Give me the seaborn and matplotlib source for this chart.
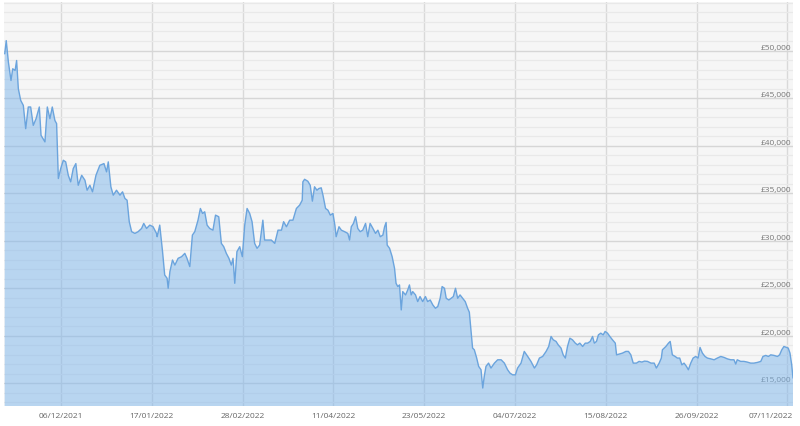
import numpy as np
import pandas as pd
import matplotlib
matplotlib.use("Agg")
import matplotlib.pyplot as plt
import matplotlib.dates as mdates
import matplotlib.ticker as mticker
import matplotlib.transforms as mtrans
import seaborn as sns

# ---------------- data ----------------
start_date = "2021-11-10"

day_offsets = [
    0, 0.7, 1.7, 2.9, 3.7, 4.8, 5.5, 6.3, 7.4, 8.6, 9.7, 10.9, 12.0, 13.2, 14.5, 16.0, 16.8, 18.6, 19.7, 20.9, 22.0, 23.2, 24.0,
    24.8, 25.9, 27.1, 28.2, 29.4, 30.5, 31.7, 32.9, 34.0, 35.6, 37.1, 38.1, 39.4, 40.6, 42.2, 44.0, 45.9, 47.1, 47.9, 49.1, 50.2, 51.7, 53.3, 54.5, 55.6, 56.6,
    57.6, 58.7, 60.2, 61.7, 63.3, 64.3, 65.6, 67.1, 68.6, 70.2, 70.5, 71.7, 73.0, 74.0, 75.1, 75.6, 76.4, 77.6, 78.7, 80.2, 81.8, 83.3, 84.3, 85.6,
    86.8, 87.9, 89.4, 90.5, 91.5, 92.5, 93.6, 94.8, 96.3, 97.5, 99.0, 100.2, 101.3, 102.5, 103.7, 104.8, 105.6, 106.4, 107.4, 108.7, 109.9, 111.0, 112.1, 113.3, 114.4, 115.6, 116.7, 117.9,
    119.4, 120.2, 121.8, 123.3, 124.9, 126.4, 128.0, 129.0, 130.3, 131.8, 133.3, 134.9, 136.4, 137.6, 137.9, 138.7, 140.2, 141.3, 142.3, 143.3, 144.4, 145.3, 146.4, 147.2,
    148.4, 149.5, 150.6, 151.8, 152.7, 153.3, 154.6, 155.7, 157.2, 158.7, 159.5, 160.3, 161.3, 162.3, 163.3, 164.4, 165.6, 166.9, 167.9, 169.0, 170.3, 171.5, 172.6, 173.7, 174.9,
    175.7, 176.4, 176.9, 178.0, 179.2, 180.3, 181.0, 181.8, 182.6, 183.4, 184.1, 185.4, 186.4, 187.2, 188.0, 188.7, 190.0, 191.0, 192.1, 193.3, 194.6, 195.6, 196.8, 198.0, 199.2, 200.3,
    201.4, 202.3, 203.4, 204.2, 205.4, 206.5, 207.5, 208.5, 209.5, 210.6, 211.8, 213.0, 214.1, 214.9, 215.7, 216.4, 217.2, 218.3, 219.2, 220.3,
    221.1, 221.8, 222.6, 223.8, 224.9, 226.5, 228.0, 229.6, 231.1, 232.6, 233.7, 234.9, 236.2, 237.2, 238.8, 240.3, 241.9, 243.4, 245.0, 246.0, 247.3, 248.8, 250.4, 251.6,
    252.7, 253.7, 255.0, 256.0, 257.3, 258.3, 259.3, 260.3, 261.4, 262.6, 263.9, 264.9, 266.0, 267.3, 268.5, 269.6, 270.8, 271.9, 272.7, 273.7, 274.6, 275.7, 276.8, 277.7, 278.8, 279.9, 281.1, 282.4,
    283.0, 284.2, 285.7, 287.3, 288.5, 289.6, 290.7, 292.2, 293.4, 294.7, 295.9, 297.3, 298.9, 300.4, 301.4, 302.7, 303.7, 304.2, 305.8, 307.0, 307.8, 308.8, 310.1, 311.1, 312.2,
    313.2, 314.2, 315.3, 316.2, 317.3, 318.4, 319.6, 320.7, 321.6, 322.7, 323.9, 325.0, 326.5, 328.1, 329.6, 331.2, 332.7, 334.2, 335.8, 337.3, 338.1, 338.8, 340.4, 341.9, 343.4, 345.0, 346.5,
    348.1, 349.7, 350.7, 352.0, 353.2, 354.3, 355.8, 357.4, 358.4, 359.4, 360.4, 361.5, 362.4, 363.2, 364.0, 364.6,
]

prices_gbp = [
    49650, 51040, 48780, 46850, 48080, 47900, 48950, 45980, 44750, 44230, 41780, 44060, 44060, 42130, 42830, 44060, 41080, 40390, 44060, 42830, 44060, 42650, 42310,
    36540, 37590, 38460, 38290, 36880, 36190, 37590, 38110, 35830, 36880, 36360, 35310, 35830, 35140, 36880, 37930, 38110, 37240, 38290, 35670, 34790, 35310, 34790, 35140, 34440, 34260,
    32000, 30950, 30770, 30950, 31290, 31820, 31290, 31640, 31470, 30770, 30420, 31640, 28850, 26390, 26050, 25000, 26750, 27970, 27440, 28150, 28320, 28670, 28150, 27280,
    30590, 30950, 32160, 33390, 32870, 33040, 31640, 31290, 31110, 32690, 32520, 29720, 29370, 28670, 28150, 27440, 28150, 25520, 28850, 29370, 28320, 31640, 33390, 32870, 32000, 29720, 29200, 29540,
    32160, 30070, 30070, 30070, 29720, 31110, 31110, 32000, 31470, 32160, 32160, 33390, 33740, 34260, 36190, 36460, 36250, 35830, 34160, 35670, 35310, 35490, 35560, 34790,
    33390, 33210, 32690, 32870, 31640, 30420, 31470, 31110, 30950, 30770, 30070, 31470, 31820, 32520, 31290, 30950, 31110, 31820, 30420, 31820, 31290, 30770, 31110, 30420, 30590,
    31470, 31920, 29540, 29200, 28320, 27100, 25520, 25180, 25350, 22720, 24650, 24300, 24820, 25350, 24300, 24650, 24300, 23600, 24130, 23600, 24130, 23600, 23770, 23250, 22900, 23080,
    23950, 25180, 25000, 23950, 23770, 23950, 24130, 25000, 23950, 24300, 23950, 23600, 22900, 22480, 20460, 18710, 18530, 17660, 16790, 16430,
    14510, 15740, 16790, 17130, 16610, 17130, 17480, 17480, 17130, 16430, 16080, 15900, 15900, 16610, 17130, 18360, 17830, 17310, 16610, 16950, 17660, 17830, 18360, 18880,
    19930, 19580, 19410, 19050, 18710, 18000, 17660, 18880, 19750, 19580, 19230, 19050, 19230, 18880, 19230, 19230, 19410, 19930, 19230, 19410, 20100, 20280, 20100, 20460, 20280, 19930, 19580, 19230,
    18000, 18080, 18180, 18360, 18360, 18000, 17130, 17130, 17310, 17240, 17340, 17310, 17130, 17130, 16610, 17130, 17660, 18530, 18880, 19230, 19410, 18000, 17830, 17660, 17660,
    16950, 17130, 16790, 16430, 17130, 17660, 17830, 17660, 18780, 18180, 17830, 17660, 17580, 17480, 17660, 17830, 17730, 17580, 17480, 17480, 17030, 17480, 17310, 17310, 17240, 17130, 17130,
    17200, 17310, 17830, 17940, 17830, 18000, 17940, 17830, 18000, 18530, 18880, 18780, 18710, 18180, 16950, 15560,
]

x_tick_dates = ["2021-12-06", "2022-01-17", "2022-02-28", "2022-04-11", "2022-05-23",
                "2022-07-04", "2022-08-15", "2022-09-26", "2022-11-07"]
y_tick_values = [15000, 20000, 25000, 30000, 35000, 40000, 45000, 50000]
y_tick_labels = ["£15,000", "£20,000", "£25,000", "£30,000", "£35,000", "£40,000", "£45,000", "£50,000"]

# ---------------- styling ----------------
sns.set_theme(style="white")
plt.rcParams["font.family"] = ["Open Sans", "DejaVu Sans"]

df = pd.DataFrame({
    "date": pd.Timestamp(start_date) + pd.to_timedelta(day_offsets, unit="D"),
    "price": prices_gbp,
})

fig = plt.figure(figsize=(8, 4.27), dpi=100)
ax = fig.add_axes([4 / 800, 20 / 427, 789 / 800, 404 / 427])
ax.set_facecolor("#f6f6f6")

ax.fill_between(df["date"], df["price"], 0, color="#7cb5ec", alpha=0.5, linewidth=0, zorder=2)
sns.lineplot(data=df, x="date", y="price", ax=ax, color="#6ba4dd", linewidth=1.0, zorder=3)

ax.set_xlim(df["date"].iloc[0] - pd.Timedelta(hours=8), df["date"].iloc[-1])
ax.set_ylim(12620, 55100)

# grid
ax.set_yticks(y_tick_values)
ax.set_yticklabels(y_tick_labels)
ax.yaxis.set_minor_locator(mticker.MultipleLocator(1000))
ax.set_xticks(pd.to_datetime(x_tick_dates))
ax.xaxis.set_major_formatter(mdates.DateFormatter("%d/%m/%Y"))

ax.grid(which="minor", axis="y", color="#e9e9e9", linewidth=0.9)
ax.grid(which="major", axis="y", color="#d6d6d6", linewidth=1.0)
ax.grid(which="major", axis="x", color="#d9d9d9", linewidth=1.0)
ax.set_axisbelow(True)

for s in ax.spines.values():
    s.set_visible(False)

ax.set_xlabel("")
ax.set_ylabel("")

ax.yaxis.tick_right()
ax.tick_params(axis="y", which="both", length=0, pad=-1, labelsize=6, labelcolor="#777777")
ax.tick_params(axis="x", which="both", length=0, pad=4, labelsize=6, labelcolor="#666666")

for lbl in ax.get_yticklabels():
    lbl.set_horizontalalignment("right")
    lbl.set_verticalalignment("bottom")

xlabels = ax.get_xticklabels()
last = xlabels[-1]
last.set_horizontalalignment("right")
last.set_transform(last.get_transform() + mtrans.ScaledTranslation(5 / 100, 0, fig.dpi_scale_trans))

fig.savefig("out.png", dpi=100)
